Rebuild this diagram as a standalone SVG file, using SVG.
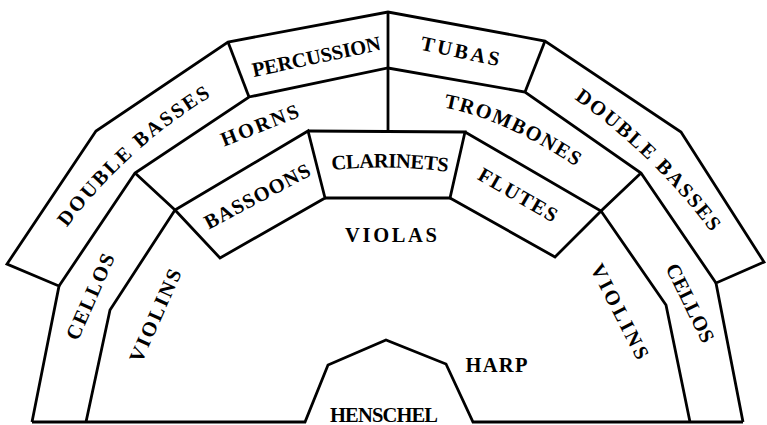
<svg xmlns="http://www.w3.org/2000/svg" xmlns:xlink="http://www.w3.org/1999/xlink" width="767" height="425" viewBox="0 0 767 425">
<style>
.ln{fill:none;stroke:#000;stroke-width:2.8;stroke-linejoin:miter;stroke-linecap:butt}
.t{font-family:"Liberation Serif","DejaVu Serif",serif;font-weight:bold;font-size:20.5px;fill:#000}
.m{text-anchor:middle}
</style>
<defs>
<path id="pDBL" d="M66.8,227.6 Q130.5,144.5 214.2,94.4"/>
<path id="pDBR" d="M574.1,98.7 Q653.8,155.3 711.6,232.6"/>
<path id="pTRB" d="M443.5,107.3 Q505,119 578.4,168.4"/>
<path id="pCLA" d="M332,170 Q390,164 449,172"/>
</defs>
<rect width="767" height="425" fill="#fff"/>
<g id="connectors">
<polyline class="ln" points="32,422 59,286 7,264 96,131 228,42 388,12 545,41 681,132 764,262 716,283 743,422"/>
<polyline class="ln" points="32,422 305,422 328,365 386,340 446,364 473,422 743,422"/>
<polyline class="ln" points="59,286 135,173 249,97 388,68 525,92 641,173 716,283"/>
<line class="ln" x1="228" y1="42" x2="249" y2="97"/>
<line class="ln" x1="545" y1="41" x2="525" y2="92"/>
<line class="ln" x1="388" y1="12" x2="388" y2="131"/>
<polyline class="ln" points="86,422 110,310 175,210 135,173"/>
<polyline class="ln" points="175,210 220,258 325,198 308,131 175,210"/>
<polyline class="ln" points="308,131 465,132 450,198 325,198"/>
<polyline class="ln" points="465,132 601,211 555,257 450,198"/>
<polyline class="ln" points="641,173 601,211 666,305 690,422"/>
</g>
<g id="double-basses-left"><text class="t"><textPath xlink:href="#pDBL" textLength="196" lengthAdjust="spacing">DOUBLE BASSES</textPath></text></g>
<g id="percussion"><text class="t m" transform="translate(317.7,63.4) rotate(-12)" textLength="131" lengthAdjust="spacing">PERCUSSION</text></g>
<g id="tubas"><text class="t m" transform="translate(458.8,57.9) rotate(12)" textLength="80" lengthAdjust="spacing">TUBAS</text></g>
<g id="double-basses-right"><text class="t"><textPath xlink:href="#pDBR" textLength="192" lengthAdjust="spacing">DOUBLE BASSES</textPath></text></g>
<g id="horns"><text class="t m" transform="translate(262.2,131.6) rotate(-21.5)" textLength="82" lengthAdjust="spacing">HORNS</text></g>
<g id="trombones"><text class="t"><textPath xlink:href="#pTRB" textLength="146" lengthAdjust="spacing">TROMBONES</textPath></text></g>
<g id="bassoons"><text class="t m" transform="translate(260.3,202.3) rotate(-28)" textLength="117" lengthAdjust="spacing">BASSOONS</text></g>
<g id="clarinets"><text class="t"><textPath xlink:href="#pCLA" textLength="116" lengthAdjust="spacing">CLARINETS</textPath></text></g>
<g id="flutes"><text class="t m" transform="translate(514.5,200.7) rotate(30)" textLength="88" lengthAdjust="spacing">FLUTES</text></g>
<g id="violas"><text class="t m" x="391" y="242" textLength="92" lengthAdjust="spacing">VIOLAS</text></g>
<g id="cellos-left"><text class="t m" transform="translate(96.5,299.4) rotate(-66)" textLength="92" lengthAdjust="spacing">CELLOS</text></g>
<g id="violins-left"><text class="t m" transform="translate(161.5,318.4) rotate(-66)" textLength="100" lengthAdjust="spacing">VIOLINS</text></g>
<g id="violins-right"><text class="t m" transform="translate(613.7,314.7) rotate(63)" textLength="104" lengthAdjust="spacing">VIOLINS</text></g>
<g id="cellos-right"><text class="t m" transform="translate(684,306) rotate(64)" textLength="85" lengthAdjust="spacing">CELLOS</text></g>
<g id="harp"><text class="t m" x="496.5" y="371.5" textLength="62" lengthAdjust="spacing">HARP</text></g>
<g id="henschel"><text class="t m" x="384" y="421.5" textLength="108" lengthAdjust="spacing">HENSCHEL</text></g>
</svg>
